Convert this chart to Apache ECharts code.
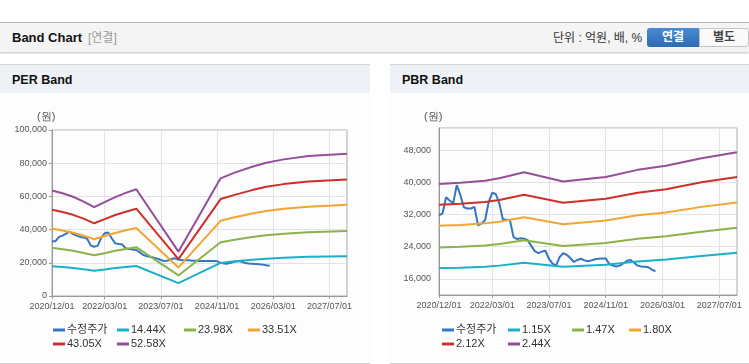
<!DOCTYPE html>
<html>
<head>
<meta charset="utf-8">
<script src="https://cdn.jsdelivr.net/npm/echarts@6.0.0/dist/echarts.min.js"></script>
<style>
  html, body { margin:0; padding:0; width:749px; height:364px; overflow:hidden; background:#fff; }
  body { position:relative; font-family:'Liberation Sans','Noto Sans CJK KR',sans-serif; }
  .hdr { position:absolute; left:0; top:22px; width:749px; height:29px; background:#f4f4f4; border-top:1px solid #b9b9b9; box-shadow:0 1px 2px rgba(0,0,0,0.25); }
  .hdr .t { position:absolute; left:12px; top:0; line-height:30px; font-size:13px; font-weight:bold; color:#111; }
  .hdr .s { position:absolute; left:88px; top:0; line-height:30px; font-size:12px; color:#999; }
  .hdr .u { position:absolute; left:553px; top:0; line-height:30px; font-size:12px; color:#333; }
  .btn1 { position:absolute; left:647px; top:5px; width:52px; height:19px; background:linear-gradient(#4b8bd1,#2d6bb2); border-radius:3px 0 0 3px; color:#fff; font-weight:bold; font-size:12px; text-align:center; line-height:19px; }
  .btn2 { position:absolute; left:699px; top:5px; width:48px; height:17px; border:1px solid #c4c4c4; background:#fafafa; color:#444; font-weight:bold; font-size:12px; text-align:center; line-height:17px; border-radius:0 3px 3px 0; }
  .panel { position:absolute; top:64px; height:298px; background:#fdfdfd; border-top:1px solid #d6d6d6; border-bottom:1px solid #d0d0d0; }
  .panel .bar { height:28px; background:#eef1f6; }
  .panel .pt { position:absolute; left:12px; top:0; line-height:30px; font-size:12.5px; font-weight:bold; color:#111; }
  #chart { position:absolute; left:0; top:0; width:749px; height:364px; }
</style>
</head>
<body>
<div class="hdr">
  <span class="t">Band Chart</span><span class="s">[연결]</span>
  <span class="u">단위 : 억원, 배, %</span>
  <div class="btn1">연결</div><div class="btn2">별도</div>
</div>
<div class="panel" style="left:0;width:370px;"><div class="bar"></div><span class="pt">PER Band</span></div>
<div class="panel" style="left:390px;width:359px;"><div class="bar"></div><span class="pt">PBR Band</span></div>
<div id="chart"></div>
<script>
// ---------- data ----------
const tickLabels = ['2020/12/01','2022/03/01','2023/07/01','2024/11/01','2026/03/01','2027/07/01'];
const months = [];
(function(){ let y = 2020, m = 12; while (y < 2028) { months.push(y + '/' + (m < 10 ? '0' + m : m) + '/01'); m++; if (m > 12) { m = 1; y++; } } })();

const perNames = ['수정주가','14.44X','23.98X','33.51X','43.05X','52.58X'];
const pbrNames = ['수정주가','1.15X','1.47X','1.80X','2.12X','2.44X'];

// PER chart: monthly adjusted price from 2020/12
const perPrice = [33000, 33000, 35600, 36400, 37600, 38800, 37300, 36400, 35600, 35300,
  34500, 30500, 29700, 30200, 35000, 37800, 38300, 34800, 31700, 31300,
  31000, 28700, 28300, 28000, 27700, 26300, 24700, 24000, 23600, 23000,
  22500, 21700, 21000, 21400, 22300, 22700, 21900, 21700, 21600, 21500,
  21300, 21200, 21100, 21100, 21100, 21100, 21100, 21000, 20000, 19600,
  19500, 20000, 20700, 21000, 20600, 19900, 19600, 19500, 19300, 19100,
  18900, 18500, 18200];
const perBandDates = ['2020/12/01','2021/03/01','2021/06/01','2021/09/01','2021/12/01','2022/03/01','2022/06/01','2022/09/01','2022/12/01','2023/12/01','2024/12/01','2025/04/01','2025/09/01','2026/01/01','2026/06/01','2027/01/01','2027/12/01'];
const per1444 = [17900, 17500, 16900, 16100, 15200, 16000, 16900, 17500, 18100, 7800, 19900, 20900, 21900, 22500, 23100, 23600, 24000];
const per2398 = [29000, 28200, 27300, 25900, 24500, 25800, 27200, 28300, 29400, 12400, 32400, 33900, 35500, 36600, 37500, 38400, 39100];
const per3351 = [40500, 39400, 38100, 36300, 34200, 36100, 38000, 39600, 41000, 17200, 45300, 47400, 49700, 51200, 52500, 53800, 54900];
const per4305 = [52000, 50600, 48900, 46600, 43800, 46300, 48800, 50800, 52600, 22200, 58400, 60900, 63800, 65800, 67400, 69000, 70200];
const per5258 = [63600, 61900, 59800, 56900, 53500, 56600, 59600, 62100, 64300, 26700, 70900, 74300, 77900, 80300, 82300, 84300, 85700];

// PBR chart
const pbrPrice = [31800, 32300, 36300, 35500, 34800, 39300, 36900, 33800, 33500, 33500,
  33900, 29300, 29800, 30600, 35100, 37400, 37100, 34800, 30800, 30700,
  30600, 26400, 25900, 26100, 26000, 25600, 24200, 22900, 22400, 22800,
  23000, 21000, 19800, 19300, 21400, 22400, 22000, 21200, 20200, 20700,
  21000, 20600, 20400, 20600, 20900, 21000, 21100, 21100, 19700, 19300,
  19100, 19300, 19900, 20500, 20700, 20000, 19300, 19100, 19000, 18900,
  18300, 17900];
const pbrBandDates = ['2020/12/01','2021/06/01','2022/01/01','2022/05/01','2022/12/01','2023/11/01','2024/11/01','2025/08/01','2026/04/01','2027/02/01','2027/12/01'];
const pbr115 = [18700, 18800, 19000, 19300, 20000, 19000, 19500, 20300, 20800, 21700, 22500];
const pbr147 = [23800, 24000, 24300, 24700, 25600, 24200, 24900, 26000, 26600, 27700, 28700];
const pbr180 = [29200, 29400, 29800, 30200, 31300, 29600, 30500, 31800, 32500, 33900, 35000];
const pbr212 = [34400, 34700, 35100, 35600, 36900, 34900, 35900, 37400, 38300, 40000, 41300];
const pbr244 = [39600, 39900, 40400, 41000, 42500, 40200, 41300, 43100, 44100, 46000, 47500];

const colors = ['#3575c6', '#1cb0c8', '#8cb24c', '#f2a532', '#cf2f2a', '#954f99'];

// ---------- chart ----------
const showTick = (i) => tickLabels.indexOf(months[i]) >= 0;
const pair = (dates, vals) => dates.map((d, i) => [d, vals[i]]);
const fmt = (v) => String(v).replace(/\B(?=(\d{3})+(?!\d))/g, ',');
const FONT = 'Liberation Sans, Noto Sans CJK KR, sans-serif';

function xAxis(gi) {
  return {
    type: 'category', gridIndex: gi, data: months, boundaryGap: false,
    axisLine: { lineStyle: { color: '#999' } },
    axisTick: { show: true, interval: (i) => showTick(i), length: 3, lineStyle: { color: '#999' } },
    axisLabel: { interval: (i) => showTick(i), color: '#555', fontSize: 9, fontFamily: FONT, margin: 6 },
    splitLine: { show: true, interval: (i) => showTick(i), lineStyle: { color: '#e3e3e3' } }
  };
}
function line(name, data, ci, gi) {
  return { name: name, type: 'line', xAxisIndex: gi, yAxisIndex: gi, data: data, symbol: 'none',
    lineStyle: { width: 2, color: colors[ci] }, itemStyle: { color: colors[ci] }, animation: false };
}
function leg(name, x, y) {
  return { data: [name], left: x, top: y - 7, padding: 0, itemWidth: 12, itemHeight: 3, icon: 'rect',
    selectedMode: false, textStyle: { fontSize: 11, color: '#333', fontFamily: FONT, lineHeight: 14, padding: [0, 0, 0, -3] } };
}

const perLegX = [53, 117, 184, 248, 53, 117];
const pbrLegX = [442, 508, 572, 629, 442, 508];
const legY = [330, 330, 330, 330, 344, 344];

const option = {
  backgroundColor: 'transparent',
  animation: false,
  grid: [
    { left: 52, top: 130, width: 295, height: 166, show: true, borderColor: '#aaa', borderWidth: 1, backgroundColor: 'transparent' },
    { left: 439, top: 128, width: 298, height: 167, show: true, borderColor: '#aaa', borderWidth: 1, backgroundColor: 'transparent' }
  ],
  xAxis: [xAxis(0), xAxis(1)],
  yAxis: [
    { type: 'value', gridIndex: 0, min: 0, max: 100000, interval: 20000,
      axisLine: { show: true, lineStyle: { color: '#999' } },
      axisTick: { show: true, length: 3, lineStyle: { color: '#999' } },
      axisLabel: { color: '#555', fontSize: 9, fontFamily: FONT, margin: 5, formatter: fmt },
      splitLine: { lineStyle: { color: '#e3e3e3' } } },
    { type: 'value', gridIndex: 1, min: 12000, max: 53500, interval: 4000,
      axisLine: { show: true, lineStyle: { color: '#999' } },
      axisTick: { show: false },
      axisLabel: { color: '#555', fontSize: 9, fontFamily: FONT, margin: 8, showMaxLabel: false,
        formatter: (v) => (v % 8000 === 0 ? fmt(v) : '') },
      splitLine: { lineStyle: { color: ['rgba(0,0,0,0)', '#e3e3e3'] } } }
  ],
  graphic: [
    { type: 'text', left: 37, top: 111, style: { text: '(원)', fontSize: 11, fill: '#555', font: '11px Noto Sans CJK KR' } },
    { type: 'text', left: 424, top: 111, style: { text: '(원)', fontSize: 11, fill: '#555', font: '11px Noto Sans CJK KR' } }
  ],
  legend: perNames.map((n, i) => leg(n, perLegX[i], legY[i]))
    .concat(pbrNames.map((n, i) => leg(n, pbrLegX[i], legY[i]))),
  series: [
    line(perNames[0], perPrice, 0, 0),
    line(perNames[1], pair(perBandDates, per1444), 1, 0),
    line(perNames[2], pair(perBandDates, per2398), 2, 0),
    line(perNames[3], pair(perBandDates, per3351), 3, 0),
    line(perNames[4], pair(perBandDates, per4305), 4, 0),
    line(perNames[5], pair(perBandDates, per5258), 5, 0),
    line(pbrNames[0], pbrPrice, 0, 1),
    line(pbrNames[1], pair(pbrBandDates, pbr115), 1, 1),
    line(pbrNames[2], pair(pbrBandDates, pbr147), 2, 1),
    line(pbrNames[3], pair(pbrBandDates, pbr180), 3, 1),
    line(pbrNames[4], pair(pbrBandDates, pbr212), 4, 1),
    line(pbrNames[5], pair(pbrBandDates, pbr244), 5, 1)
  ]
};
const chart = echarts.init(document.getElementById('chart'), null, { renderer: 'canvas' });
chart.setOption(option);
</script>
</body>
</html>
